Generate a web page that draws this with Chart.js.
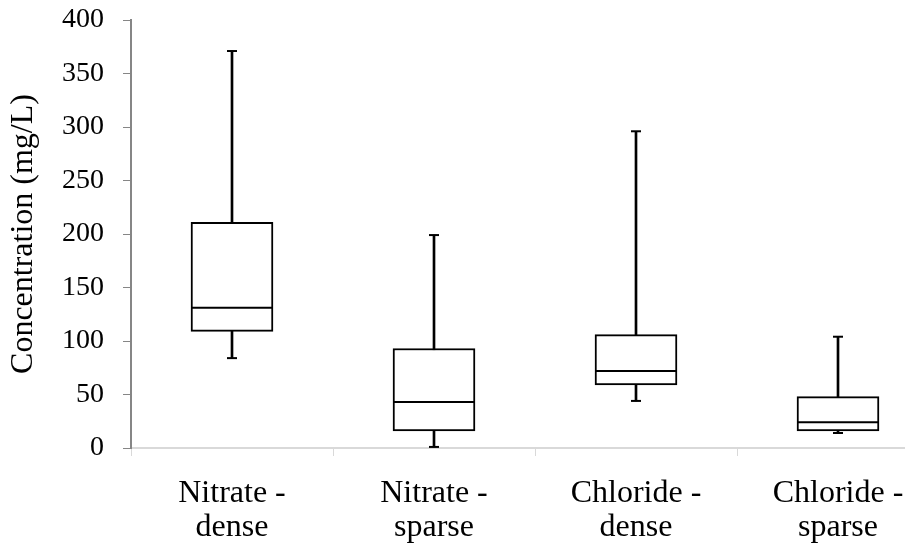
<!DOCTYPE html>
<html>
<head>
<meta charset="utf-8">
<script src="https://cdn.jsdelivr.net/npm/chart.js@4/dist/chart.umd.min.js"></script>
<style>
  html, body { margin: 0; padding: 0; background: #fff; overflow: hidden; }
  canvas { display: block; }
</style>
</head>
<body>
<canvas id="boxChart" width="939" height="546"></canvas>
<script>
var categories = [['Nitrate -', 'dense'], ['Nitrate -', 'sparse'], ['Chloride -', 'dense'], ['Chloride -', 'sparse']];
var whiskerMin = [84, 1, 44, 14];
var quartile1 = [109, 16, 59, 16];
var medians = [131, 43, 72, 24];
var quartile3 = [211, 93, 106, 48];
var whiskerMax = [371, 199, 296, 104];
var yTicks = [0, 50, 100, 150, 200, 250, 300, 350, 400];

Chart.defaults.font.family = '"Liberation Serif", "Times New Roman", serif';
Chart.defaults.font.size = 28;
Chart.defaults.color = '#000';

document.addEventListener('DOMContentLoaded', function() {
    var ctx = document.getElementById('boxChart').getContext('2d');

    var whiskers = whiskerMin.map(function(v, i) { return [v, whiskerMax[i]]; });
    var boxes = quartile1.map(function(v, i) { return [v, quartile3[i]]; });

    // horizontal strokes (median, whisker caps) drawn as 'line' point markers
    function capLine(values, radius, order) {
        return {
            type: 'line',
            data: values,
            showLine: false,
            pointStyle: 'line',
            pointRadius: radius,
            pointHoverRadius: radius,
            pointBorderWidth: 2,
            pointBorderColor: '#000',
            borderColor: '#000',
            clip: false,
            order: order
        };
    }

    var boxChart = new Chart(ctx, {
        type: 'bar',
        data: {
            labels: categories,
            datasets: [
                {
                    data: whiskers,
                    backgroundColor: '#000',
                    borderWidth: 0,
                    barThickness: 2,
                    grouped: false,
                    order: 5
                },
                {
                    data: boxes,
                    backgroundColor: '#fff',
                    borderColor: '#000',
                    borderWidth: 2,
                    borderSkipped: false,
                    barThickness: 82,
                    grouped: false,
                    order: 4
                },
                capLine(medians, 41, 1),
                capLine(whiskerMax, 5, 2),
                capLine(whiskerMin, 5, 3)
            ]
        },
        options: {
            responsive: false,
            animation: false,
            layout: { autoPadding: false, padding: { top: 20, left: 0, right: 0, bottom: 0 } },
            scales: {
                x: {
                    type: 'category',
                    offset: true,
                    grid: {
                        offset: true,
                        drawOnChartArea: false,
                        color: '#d9d9d9',
                        tickLength: 8
                    },
                    border: { color: '#d9d9d9', width: 2 },
                    ticks: {
                        padding: 21,
                        maxRotation: 0,
                        autoSkip: false,
                        font: { size: 32, lineHeight: 1.06 }
                    },
                    afterFit: function(scale) {
                        scale.height = 98;
                        scale.paddingLeft = 0;
                        scale.paddingRight = 0;
                    }
                },
                y: {
                    min: 0,
                    max: 400,
                    afterBuildTicks: function(scale) {
                        scale.ticks = yTicks.map(function(v) { return { value: v }; });
                    },
                    grid: {
                        drawOnChartArea: false,
                        color: '#868686',
                        tickLength: 8
                    },
                    border: { color: '#868686', width: 2 },
                    ticks: { padding: 19, font: { size: 28, lineHeight: 1 } },
                    title: {
                        display: true,
                        text: 'Concentration (mg/L)',
                        font: { size: 32, lineHeight: 1 },
                        padding: { top: 8, bottom: 0 }
                    },
                    afterFit: function(scale) {
                        scale.width = 131;
                        scale.paddingTop = 0;
                        scale.paddingBottom = 0;
                    }
                }
            },
            plugins: {
                legend: { display: false },
                tooltip: { enabled: false }
            }
        }
    });
});
</script>
</body>
</html>
